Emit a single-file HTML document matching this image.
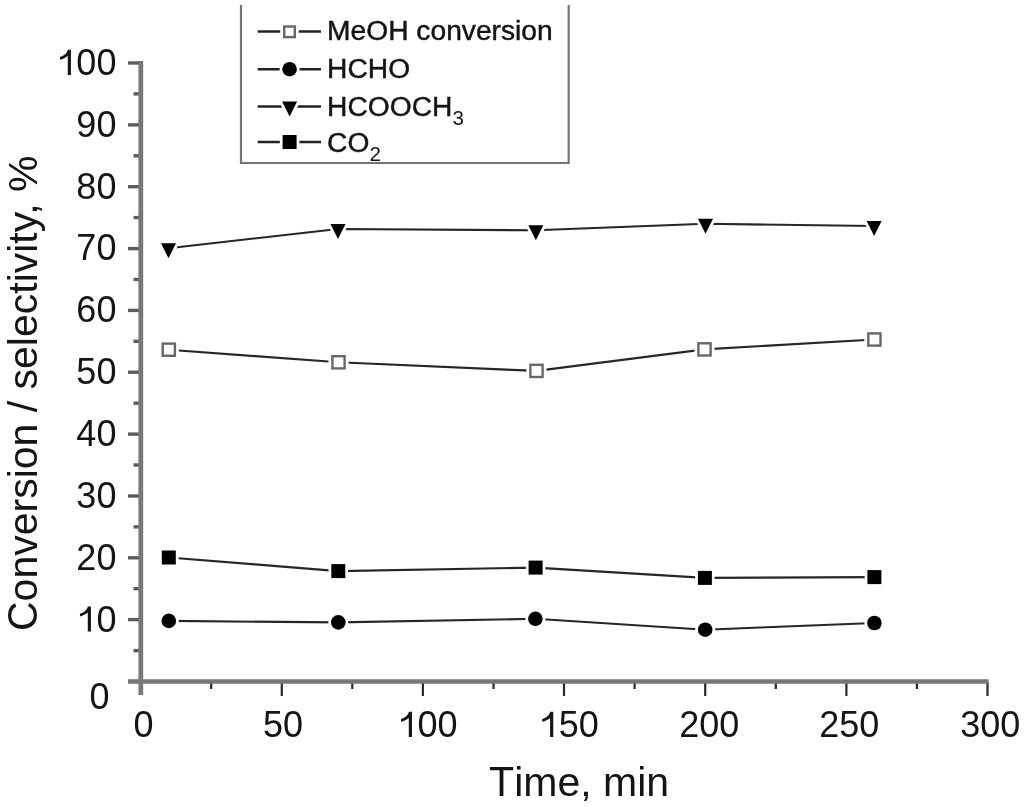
<!DOCTYPE html>
<html><head><meta charset="utf-8"><style>
html,body{margin:0;padding:0;background:#fff;}
body{width:1024px;height:807px;overflow:hidden;position:relative;}
svg{position:absolute;left:0;top:0;}
text{font-family:"Liberation Sans", sans-serif;fill:#141414;}
svg{filter:blur(0.55px);}
</style></head><body>
<svg width="1024" height="807" viewBox="0 0 1024 807">
<g>
<line x1="128.0" y1="681.5" x2="140.5" y2="681.5" stroke="#5c5c5c" stroke-width="3.4"/>
<line x1="133.5" y1="650.6" x2="140.5" y2="650.6" stroke="#5c5c5c" stroke-width="3.4"/>
<line x1="128.0" y1="619.6" x2="140.5" y2="619.6" stroke="#5c5c5c" stroke-width="3.4"/>
<line x1="133.5" y1="588.7" x2="140.5" y2="588.7" stroke="#5c5c5c" stroke-width="3.4"/>
<line x1="128.0" y1="557.8" x2="140.5" y2="557.8" stroke="#5c5c5c" stroke-width="3.4"/>
<line x1="133.5" y1="526.9" x2="140.5" y2="526.9" stroke="#5c5c5c" stroke-width="3.4"/>
<line x1="128.0" y1="496.0" x2="140.5" y2="496.0" stroke="#5c5c5c" stroke-width="3.4"/>
<line x1="133.5" y1="465.0" x2="140.5" y2="465.0" stroke="#5c5c5c" stroke-width="3.4"/>
<line x1="128.0" y1="434.1" x2="140.5" y2="434.1" stroke="#5c5c5c" stroke-width="3.4"/>
<line x1="133.5" y1="403.2" x2="140.5" y2="403.2" stroke="#5c5c5c" stroke-width="3.4"/>
<line x1="128.0" y1="372.2" x2="140.5" y2="372.2" stroke="#5c5c5c" stroke-width="3.4"/>
<line x1="133.5" y1="341.3" x2="140.5" y2="341.3" stroke="#5c5c5c" stroke-width="3.4"/>
<line x1="128.0" y1="310.4" x2="140.5" y2="310.4" stroke="#5c5c5c" stroke-width="3.4"/>
<line x1="133.5" y1="279.5" x2="140.5" y2="279.5" stroke="#5c5c5c" stroke-width="3.4"/>
<line x1="128.0" y1="248.6" x2="140.5" y2="248.6" stroke="#5c5c5c" stroke-width="3.4"/>
<line x1="133.5" y1="217.6" x2="140.5" y2="217.6" stroke="#5c5c5c" stroke-width="3.4"/>
<line x1="128.0" y1="186.7" x2="140.5" y2="186.7" stroke="#5c5c5c" stroke-width="3.4"/>
<line x1="133.5" y1="155.8" x2="140.5" y2="155.8" stroke="#5c5c5c" stroke-width="3.4"/>
<line x1="128.0" y1="124.9" x2="140.5" y2="124.9" stroke="#5c5c5c" stroke-width="3.4"/>
<line x1="133.5" y1="93.9" x2="140.5" y2="93.9" stroke="#5c5c5c" stroke-width="3.4"/>
<line x1="128.0" y1="63.0" x2="140.5" y2="63.0" stroke="#5c5c5c" stroke-width="3.4"/>
<line x1="211.2" y1="681.5" x2="211.2" y2="689.0" stroke="#2a2a2a" stroke-width="2.2"/>
<line x1="281.8" y1="681.5" x2="281.8" y2="696.0" stroke="#2a2a2a" stroke-width="2.2"/>
<line x1="352.3" y1="681.5" x2="352.3" y2="689.0" stroke="#2a2a2a" stroke-width="2.2"/>
<line x1="422.9" y1="681.5" x2="422.9" y2="696.0" stroke="#2a2a2a" stroke-width="2.2"/>
<line x1="493.5" y1="681.5" x2="493.5" y2="689.0" stroke="#2a2a2a" stroke-width="2.2"/>
<line x1="564.0" y1="681.5" x2="564.0" y2="696.0" stroke="#2a2a2a" stroke-width="2.2"/>
<line x1="634.6" y1="681.5" x2="634.6" y2="689.0" stroke="#2a2a2a" stroke-width="2.2"/>
<line x1="705.2" y1="681.5" x2="705.2" y2="696.0" stroke="#2a2a2a" stroke-width="2.2"/>
<line x1="775.8" y1="681.5" x2="775.8" y2="689.0" stroke="#2a2a2a" stroke-width="2.2"/>
<line x1="846.4" y1="681.5" x2="846.4" y2="696.0" stroke="#2a2a2a" stroke-width="2.2"/>
<line x1="916.9" y1="681.5" x2="916.9" y2="689.0" stroke="#2a2a2a" stroke-width="2.2"/>
<line x1="987.5" y1="681.5" x2="987.5" y2="696.0" stroke="#2a2a2a" stroke-width="2.2"/>
</g>
<line x1="140.8" y1="61" x2="140.8" y2="695" stroke="#787878" stroke-width="4.8"/>
<line x1="128" y1="681.5" x2="988.5" y2="681.5" stroke="#787878" stroke-width="4.6"/>
<g fill="none" stroke="#262626" stroke-width="2.1">
<polyline points="168.8,349.7 338.5,362.3 536.5,370.9 704.5,349.4 874.4,339.5"/>
<polyline points="168.5,248.2 338.0,229.0 535.9,230.3 705.5,223.8 874.1,226.0"/>
<polyline points="168.8,557.5 338.3,571.1 535.6,567.6 704.9,577.9 874.4,577.1"/>
<polyline points="168.8,620.9 338.3,622.4 535.4,618.8 705.2,629.7 874.4,623.0"/>
</g>
<rect x="161.5" y="342.4" width="14.6" height="14.6" fill="#fff" stroke="#fff" stroke-width="5.5" stroke-linejoin="round"/><rect x="162.7" y="343.6" width="12.2" height="12.2" fill="#fff" stroke="#676767" stroke-width="2.4"/>
<rect x="331.2" y="355.0" width="14.6" height="14.6" fill="#fff" stroke="#fff" stroke-width="5.5" stroke-linejoin="round"/><rect x="332.4" y="356.2" width="12.2" height="12.2" fill="#fff" stroke="#676767" stroke-width="2.4"/>
<rect x="529.2" y="363.6" width="14.6" height="14.6" fill="#fff" stroke="#fff" stroke-width="5.5" stroke-linejoin="round"/><rect x="530.4" y="364.8" width="12.2" height="12.2" fill="#fff" stroke="#676767" stroke-width="2.4"/>
<rect x="697.2" y="342.1" width="14.6" height="14.6" fill="#fff" stroke="#fff" stroke-width="5.5" stroke-linejoin="round"/><rect x="698.4" y="343.3" width="12.2" height="12.2" fill="#fff" stroke="#676767" stroke-width="2.4"/>
<rect x="867.1" y="332.2" width="14.6" height="14.6" fill="#fff" stroke="#fff" stroke-width="5.5" stroke-linejoin="round"/><rect x="868.3" y="333.4" width="12.2" height="12.2" fill="#fff" stroke="#676767" stroke-width="2.4"/>
<polygon points="161.0,243.2 176.0,243.2 168.5,258.2" fill="#fff" stroke="#fff" stroke-width="5.5" stroke-linejoin="round"/><polygon points="161.0,243.2 176.0,243.2 168.5,258.2" fill="#000"/>
<polygon points="330.5,224.0 345.5,224.0 338.0,239.0" fill="#fff" stroke="#fff" stroke-width="5.5" stroke-linejoin="round"/><polygon points="330.5,224.0 345.5,224.0 338.0,239.0" fill="#000"/>
<polygon points="528.4,225.3 543.4,225.3 535.9,240.3" fill="#fff" stroke="#fff" stroke-width="5.5" stroke-linejoin="round"/><polygon points="528.4,225.3 543.4,225.3 535.9,240.3" fill="#000"/>
<polygon points="698.0,218.8 713.0,218.8 705.5,233.8" fill="#fff" stroke="#fff" stroke-width="5.5" stroke-linejoin="round"/><polygon points="698.0,218.8 713.0,218.8 705.5,233.8" fill="#000"/>
<polygon points="866.6,221.0 881.6,221.0 874.1,236.0" fill="#fff" stroke="#fff" stroke-width="5.5" stroke-linejoin="round"/><polygon points="866.6,221.0 881.6,221.0 874.1,236.0" fill="#000"/>
<rect x="161.8" y="550.5" width="14" height="14" fill="#fff" stroke="#fff" stroke-width="5.5" stroke-linejoin="round"/><rect x="161.8" y="550.5" width="14" height="14" fill="#000"/>
<rect x="331.3" y="564.1" width="14" height="14" fill="#fff" stroke="#fff" stroke-width="5.5" stroke-linejoin="round"/><rect x="331.3" y="564.1" width="14" height="14" fill="#000"/>
<rect x="528.6" y="560.6" width="14" height="14" fill="#fff" stroke="#fff" stroke-width="5.5" stroke-linejoin="round"/><rect x="528.6" y="560.6" width="14" height="14" fill="#000"/>
<rect x="697.9" y="570.9" width="14" height="14" fill="#fff" stroke="#fff" stroke-width="5.5" stroke-linejoin="round"/><rect x="697.9" y="570.9" width="14" height="14" fill="#000"/>
<rect x="867.4" y="570.1" width="14" height="14" fill="#fff" stroke="#fff" stroke-width="5.5" stroke-linejoin="round"/><rect x="867.4" y="570.1" width="14" height="14" fill="#000"/>
<circle cx="168.8" cy="620.9" r="7.3" fill="#fff" stroke="#fff" stroke-width="5.5" stroke-linejoin="round"/><circle cx="168.8" cy="620.9" r="7.3" fill="#000"/>
<circle cx="338.3" cy="622.4" r="7.3" fill="#fff" stroke="#fff" stroke-width="5.5" stroke-linejoin="round"/><circle cx="338.3" cy="622.4" r="7.3" fill="#000"/>
<circle cx="535.4" cy="618.8" r="7.3" fill="#fff" stroke="#fff" stroke-width="5.5" stroke-linejoin="round"/><circle cx="535.4" cy="618.8" r="7.3" fill="#000"/>
<circle cx="705.2" cy="629.7" r="7.3" fill="#fff" stroke="#fff" stroke-width="5.5" stroke-linejoin="round"/><circle cx="705.2" cy="629.7" r="7.3" fill="#000"/>
<circle cx="874.4" cy="623.0" r="7.3" fill="#fff" stroke="#fff" stroke-width="5.5" stroke-linejoin="round"/><circle cx="874.4" cy="623.0" r="7.3" fill="#000"/>
<g font-size="36">
<path d="M830 0L650 0L650 1085Q565 1010 445 950Q325 893 205 862L205 1018Q365 1068 482 1160Q600 1252 664 1430L830 1430Z" transform="translate(76.36,631.53) scale(0.01758,-0.01758)" fill="#141414"/><text x="96.38" y="631.53">0</text>
<text x="76.36" y="569.68">2</text><text x="96.38" y="569.68">0</text>
<text x="76.36" y="507.83">3</text><text x="96.38" y="507.83">0</text>
<text x="76.36" y="445.98">4</text><text x="96.38" y="445.98">0</text>
<text x="76.36" y="384.13">5</text><text x="96.38" y="384.13">0</text>
<text x="76.36" y="322.28">6</text><text x="96.38" y="322.28">0</text>
<text x="76.36" y="260.43">7</text><text x="96.38" y="260.43">0</text>
<text x="76.36" y="198.58">8</text><text x="96.38" y="198.58">0</text>
<text x="76.36" y="136.73">9</text><text x="96.38" y="136.73">0</text>
<path d="M830 0L650 0L650 1085Q565 1010 445 950Q325 893 205 862L205 1018Q365 1068 482 1160Q600 1252 664 1430L830 1430Z" transform="translate(56.34,74.88) scale(0.01758,-0.01758)" fill="#141414"/><text x="76.36" y="74.88">0</text><text x="96.38" y="74.88">0</text>
<text x="89.58" y="708.98">0</text>
<text x="133.59" y="736.98">0</text>
<text x="263.08" y="736.98">5</text><text x="283.10" y="736.98">0</text>
<path d="M830 0L650 0L650 1085Q565 1010 445 950Q325 893 205 862L205 1018Q365 1068 482 1160Q600 1252 664 1430L830 1430Z" transform="translate(397.37,736.98) scale(0.01758,-0.01758)" fill="#141414"/><text x="417.39" y="736.98">0</text><text x="437.41" y="736.98">0</text>
<path d="M830 0L650 0L650 1085Q565 1010 445 950Q325 893 205 862L205 1018Q365 1068 482 1160Q600 1252 664 1430L830 1430Z" transform="translate(538.67,736.98) scale(0.01758,-0.01758)" fill="#141414"/><text x="558.69" y="736.98">5</text><text x="578.71" y="736.98">0</text>
<text x="679.27" y="736.98">2</text><text x="699.29" y="736.98">0</text><text x="719.31" y="736.98">0</text>
<text x="819.27" y="736.98">2</text><text x="839.29" y="736.98">5</text><text x="859.31" y="736.98">0</text>
<text x="960.27" y="736.98">3</text><text x="980.29" y="736.98">0</text><text x="1000.31" y="736.98">0</text>
</g>
<g font-size="41"><text transform="translate(489.1,795.7) scale(1,1.05)">T</text><text x="514.15" y="795.7">ime, min</text></g>
<g transform="translate(36.5,391.8) rotate(-90)" font-size="41"><text transform="translate(-239.25,0) scale(1,1.06)">C</text><text x="-209.64" y="0">onversion / selectivity, %</text></g>
<polyline points="241,5 241,163 568.7,163 568.7,5" fill="none" stroke="#747474" stroke-width="2.2"/>
<line x1="257.7" y1="31.6" x2="321" y2="31.6" stroke="#222" stroke-width="2.5"/>
<line x1="257.7" y1="69.2" x2="321" y2="69.2" stroke="#222" stroke-width="2.5"/>
<line x1="257.7" y1="106.5" x2="321" y2="106.5" stroke="#222" stroke-width="2.5"/>
<line x1="257.7" y1="142" x2="321" y2="142" stroke="#222" stroke-width="2.5"/>
<rect x="283.0" y="25.3" width="13" height="13" fill="#fff" stroke="#fff" stroke-width="5.5" stroke-linejoin="round"/><rect x="284.2" y="26.5" width="10.6" height="10.6" fill="#fff" stroke="#676767" stroke-width="2.4"/>
<circle cx="289.6" cy="69.2" r="7.3" fill="#fff" stroke="#fff" stroke-width="5.5" stroke-linejoin="round"/><circle cx="289.6" cy="69.2" r="7.3" fill="#000"/>
<polygon points="282.1,101.5 297.1,101.5 289.6,116.5" fill="#fff" stroke="#fff" stroke-width="5.5" stroke-linejoin="round"/><polygon points="282.1,101.5 297.1,101.5 289.6,116.5" fill="#000"/>
<rect x="282.6" y="135.0" width="14" height="14" fill="#fff" stroke="#fff" stroke-width="5.5" stroke-linejoin="round"/><rect x="282.6" y="135.0" width="14" height="14" fill="#000"/>
<g font-size="28.2" style="stroke:#141414;stroke-width:0.45px">
<text x="327.1" y="39.9">MeOH conversion</text>
<text x="327.1" y="77.6">HCHO</text>
<text x="327.1" y="116.3">HCOOCH<tspan font-size="20.5" dy="9" style="stroke:none">3</tspan></text>
<text x="327.1" y="151.5">CO<tspan font-size="20.5" dy="9" style="stroke:none">2</tspan></text>
</g>
</svg>
</body></html>
